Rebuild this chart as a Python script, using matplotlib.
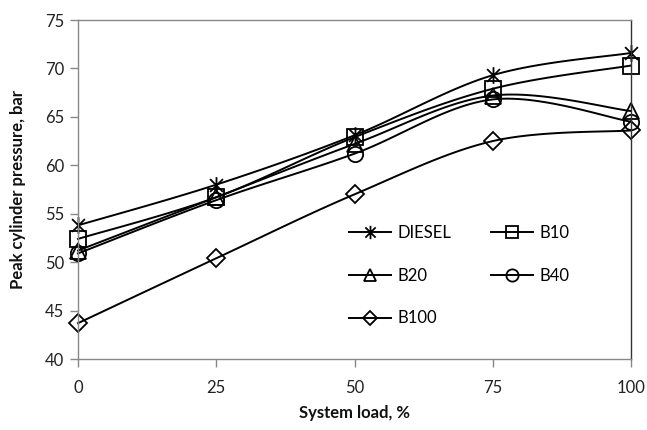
import numpy as np
import matplotlib
matplotlib.use("Agg")
from matplotlib import pyplot as plt
from matplotlib.path import Path

plt.rcParams['font.family'] = ['Lato', 'DejaVu Sans']

load = [0, 25, 50, 75, 100]
names = ["DIESEL", "B10", "B20", "B40", "B100"]
diesel = [53.8, 58.0, 63.1, 69.3, 71.6]
b10 = [52.4, 56.7, 62.9, 67.9, 70.3]
b20 = [51.2, 56.7, 62.2, 67.2, 65.6]
b40 = [50.9, 56.4, 61.2, 66.8, 64.5]
b100 = [43.7, 50.4, 57.0, 62.5, 63.6]

# asterisk marker: X plus vertical bar
star = Path([(-1, -1), (1, 1), (-1, 1), (1, -1), (0, -1.3), (0, 1.3)],
            [Path.MOVETO, Path.LINETO, Path.MOVETO, Path.LINETO, Path.MOVETO, Path.LINETO])
markers = [star, "s", "^", "o", "D"]
msizes = [12, 11, 11, 11, 9]


def smooth(xs, ys, n=30):
    # excel style smoothed line (catmull-rom bezier)
    p = np.column_stack([xs, ys]).astype(float)
    p = np.vstack([p[0], p, p[-1]])
    out = []
    t = np.linspace(0, 1, n, endpoint=False)[:, None]
    for i in range(1, len(p) - 2):
        p0, p1, p2, p3 = p[i - 1], p[i], p[i + 1], p[i + 2]
        c1 = p1 + (p2 - p0) / 6
        c2 = p2 - (p3 - p1) / 6
        seg = (1 - t) ** 3 * p1 + 3 * (1 - t) ** 2 * t * c1 + 3 * (1 - t) * t ** 2 * c2 + t ** 3 * p2
        out.append(seg)
    out.append(p[-2][None, :])
    out = np.vstack(out)
    return out[:, 0], out[:, 1], list(range(0, len(out), n))


fig = plt.figure(figsize=(6.47, 4.30), dpi=100)
ax = fig.add_axes([78 / 647, 1 - 359 / 430, (631 - 78) / 647, (359 - 20) / 430])

lines = []
for name, ys, m, ms in zip(names, [diesel, b10, b20, b40, b100], markers, msizes):
    sx, sy, idx = smooth(load, ys)
    ln, = ax.plot(sx, sy, color="black", lw=1.4, marker=m, markevery=idx, ms=ms,
                  mfc="none", mec="black", mew=1.3, label=name, clip_on=False)
    lines.append(ln)

ax.set_xlim(0, 100)
ax.set_ylim(40, 75)
ax.set_xticks(load)
ax.set_yticks(np.arange(40, 76, 5))
ax.tick_params(direction="out", length=6, width=1, color="#888888",
               labelsize=12, labelcolor="#222222")
ax.tick_params(axis="y", pad=4)
ax.tick_params(axis="x", pad=9)
for s in ["left", "bottom", "top"]:
    ax.spines[s].set_color("#888888")
ax.spines["right"].set_color("#333333")
for s in ax.spines.values():
    s.set_linewidth(1)

ax.set_xlabel("System load, %", fontsize=12, fontweight="bold", color="#111111")
ax.set_ylabel("Peak cylinder pressure, bar", fontsize=12, fontweight="bold", color="#111111")
ax.xaxis.set_label_coords(0.5, -0.159)
ax.xaxis.label.set_va("center")
ax.yaxis.set_label_coords(-0.108, 0.5)
ax.yaxis.label.set_va("center")

# row order in the legend: DIESEL B10 / B20 B40 / B100
order = [0, 2, 4, 1, 3]
ax.legend([lines[i] for i in order], [names[i] for i in order],
          ncol=2, frameon=False, loc="upper left", bbox_to_anchor=(0.49, 0.395),
          fontsize=12, handlelength=2.5, handletextpad=0.4, labelspacing=1.6,
          columnspacing=2.4, numpoints=1, markerscale=0.8, borderpad=0, borderaxespad=0)

fig.savefig("out.png", dpi=100)
